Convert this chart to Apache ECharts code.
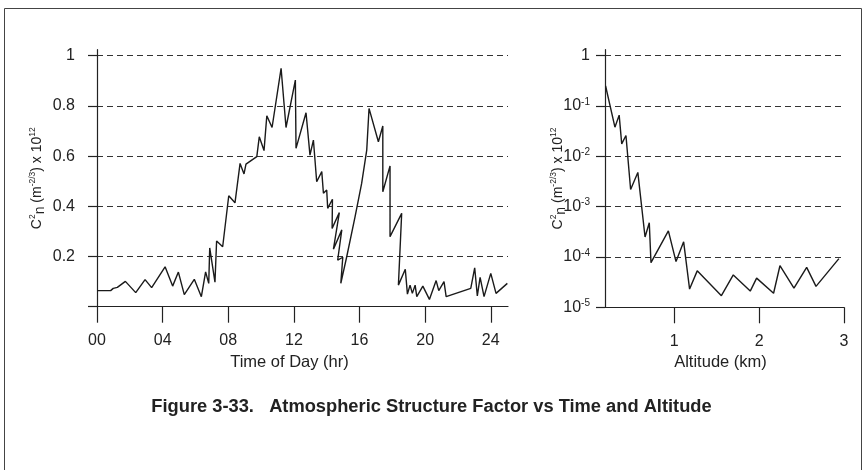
<!DOCTYPE html>
<html><head><meta charset="utf-8">
<script src="https://cdn.jsdelivr.net/npm/echarts@6/dist/echarts.min.js"></script>
<style>html,body{margin:0;padding:0;background:#fff}#c{width:863px;height:470px}</style>
</head><body><div id="c"></div>
<script>
// Left panel: C2n vs time of day
const timeHours = [0,0.83,0.99,1.24,1.73,2.36,2.93,3.33,4.15,4.61,4.96,5.32,5.93,6.36,6.62,6.81,6.87,7.19,7.29,7.66,8.03,8.41,8.72,8.96,9.08,9.74,9.89,10.18,10.35,10.67,11.22,11.52,12.09,12.13,12.74,12.98,13.19,13.39,13.70,13.80,14.00,14.06,14.35,14.33,14.77,14.41,14.92,14.67,14.98,14.86,15.22,15.73,16.13,16.44,16.58,17.15,17.42,17.42,17.86,17.86,18.57,18.37,18.79,18.92,19.08,19.22,19.39,19.49,19.86,20.26,20.67,20.83,21.15,21.28,22.78,23.02,23.18,23.35,23.59,24.00,24.32,25.01];
const timeValues = [0.064,0.064,0.073,0.077,0.101,0.056,0.108,0.076,0.159,0.082,0.138,0.048,0.109,0.040,0.139,0.093,0.234,0.098,0.262,0.239,0.442,0.414,0.571,0.529,0.568,0.598,0.677,0.622,0.761,0.714,0.950,0.714,0.903,0.631,0.773,0.604,0.664,0.498,0.538,0.452,0.465,0.392,0.428,0.312,0.375,0.229,0.306,0.186,0.197,0.093,0.199,0.359,0.491,0.624,0.790,0.657,0.720,0.458,0.561,0.279,0.372,0.086,0.149,0.050,0.086,0.053,0.086,0.040,0.082,0.029,0.104,0.064,0.100,0.040,0.073,0.155,0.043,0.117,0.040,0.133,0.053,0.093];
// Right panel: C2n vs altitude (log scale)
const altitudeKm = [0.19,0.30,0.35,0.38,0.43,0.485,0.57,0.655,0.705,0.725,0.93,1.02,1.11,1.18,1.27,1.555,1.695,1.895,1.97,2.17,2.245,2.41,2.56,2.67,2.94];
const altitudeValues = [0.25,0.038,0.066,0.0177,0.026,0.0022,0.0048,2.5e-4,4.8e-4,7.7e-5,3.3e-4,8.1e-5,2.0e-4,2.3e-5,5.3e-5,1.7e-5,4.4e-5,2.1e-5,3.8e-5,1.9e-5,6.7e-5,2.4e-5,6.2e-5,2.6e-5,9.3e-5];
// Tick values
const timeTicks = [0,4,8,12,16,20,24];
const altitudeTicks = [1,2,3];
const linearTickLabels = [0.2,0.4,0.6,0.8,1];
const linearTicks = [0,0.2,0.4,0.6,0.8,1];
const logTicks = [1e-5,1e-4,1e-3,1e-2,1e-1,1];

const FONT = 'Liberation Sans, Arial, Helvetica, sans-serif';
const INK = '#222';
const nameRich = {
  b: {fontSize: 14, fontFamily: FONT, color: INK, lineHeight: 19, verticalAlign: 'middle'},
  sup: {fontSize: 8.5, fontFamily: FONT, color: INK, lineHeight: 19, verticalAlign: 'top'},
  sub: {fontSize: 14, fontFamily: FONT, color: INK, lineHeight: 19, verticalAlign: 'bottom', padding: [6,0,0,0]}
};
const yName = '{b|C}{sup|2}{sub|n}{b| (m}{sup|-2/3}{b|) x 10}{sup|12}';

const chart = echarts.init(document.getElementById('c'), null, {renderer: 'canvas'});
chart.setOption({
  animation: false,
  backgroundColor: '#fff',
  textStyle: {fontFamily: FONT, color: INK},
  title: {
    text: 'Figure 3-33.   Atmospheric Structure Factor vs Time and Altitude',
    left: 'center', top: 393,
    textStyle: {fontFamily: FONT, fontSize: 18.3, fontWeight: 'bold', color: INK}
  },
  graphic: [{type: 'rect', z: -1, shape: {x: 4.5, y: 8.5, width: 857, height: 480},
    style: {fill: 'none', stroke: '#444', lineWidth: 1}}],
  grid: [
    {left: 97, top: 49.7, width: 411, height: 257, outerBoundsMode: 'none', containLabel: false},
    {left: 605, top: 49.7, width: 239, height: 257.6, outerBoundsMode: 'none', containLabel: false}
  ],
  xAxis: [
    {gridIndex: 0, type: 'value', min: 0, max: 25.05,
     name: 'Time of Day (hr)', nameLocation: 'middle', nameGap: 47, nameMoveOverlap: false,
     nameTextStyle: {fontSize: 16.5, fontFamily: FONT, color: INK, padding: [0, 26, 0, 0]},
     axisLine: {show: true, onZero: false, lineStyle: {color: INK, width: 1.2}},
     axisTick: {show: true, length: 16, customValues: timeTicks, lineStyle: {color: INK, width: 1.2}},
     axisLabel: {show: true, customValues: timeTicks, margin: 26, fontSize: 16, fontFamily: FONT, color: INK,
       formatter: v => (v < 10 ? '0' : '') + v},
     splitLine: {show: false}},
    {gridIndex: 1, type: 'value', min: 0.183, max: 3.0,
     name: 'Altitude (km)', nameLocation: 'middle', nameGap: 47, nameMoveOverlap: false,
     nameTextStyle: {fontSize: 16.5, fontFamily: FONT, color: INK, padding: [0, 8, 0, 0]},
     axisLine: {show: true, onZero: false, lineStyle: {color: INK, width: 1.2}},
     axisTick: {show: true, length: 16, customValues: altitudeTicks, lineStyle: {color: INK, width: 1.2}},
     axisLabel: {show: true, customValues: altitudeTicks, margin: 26, fontSize: 16, fontFamily: FONT, color: INK},
     splitLine: {show: false}}
  ],
  yAxis: [
    {gridIndex: 0, type: 'value', min: 0, max: 1.024, interval: 0.2,
     name: yName, nameLocation: 'middle', nameRotate: 90, nameGap: 50, nameMoveOverlap: false,
     nameTextStyle: {rich: nameRich},
     axisLine: {show: true, onZero: false, lineStyle: {color: INK, width: 1.2}},
     axisTick: {show: true, length: 9, customValues: linearTicks, lineStyle: {color: INK, width: 1.2}},
     axisLabel: {show: true, customValues: linearTickLabels, margin: 22, fontSize: 16, fontFamily: FONT, color: INK,
       formatter: v => String(+v.toFixed(1))},
     splitLine: {show: true, showMinLine: false, lineStyle: {color: '#333', type: [6, 4], width: 1.2}}},
    {gridIndex: 1, type: 'log', logBase: 10, min: 1e-5, max: 1.318, interval: 1,
     name: yName, nameLocation: 'middle', nameRotate: 90, nameGap: 37, nameMoveOverlap: false,
     nameTextStyle: {rich: nameRich},
     axisLine: {show: true, onZero: false, lineStyle: {color: INK, width: 1.2}},
     axisTick: {show: true, length: 9, customValues: logTicks, lineStyle: {color: INK, width: 1.2}},
     axisLabel: {show: true, customValues: logTicks, margin: 15, fontSize: 16, fontFamily: FONT, color: INK,
       formatter: v => {
         const e = Math.round(Math.log10(v));
         return e === 0 ? '{b|1}' : '{b|10}{sup|' + e + '}';
       },
       rich: {
         b: {fontSize: 16, fontFamily: FONT, color: INK, lineHeight: 18, verticalAlign: 'middle'},
         sup: {fontSize: 10, fontFamily: FONT, color: INK, lineHeight: 18, verticalAlign: 'top'}
       }},
     splitLine: {show: true, showMinLine: false, lineStyle: {color: '#333', type: [6, 4], width: 1.2}}}
  ],
  series: [
    {type: 'line', xAxisIndex: 0, yAxisIndex: 0, showSymbol: false, symbol: 'none',
     lineStyle: {color: '#1a1a1a', width: 1.4},
     data: timeHours.map((h, i) => [h, timeValues[i]])},
    {type: 'line', xAxisIndex: 1, yAxisIndex: 1, showSymbol: false, symbol: 'none',
     lineStyle: {color: '#1a1a1a', width: 1.4},
     data: altitudeKm.map((a, i) => [a, altitudeValues[i]])}
  ]
});
</script>
</body></html>
